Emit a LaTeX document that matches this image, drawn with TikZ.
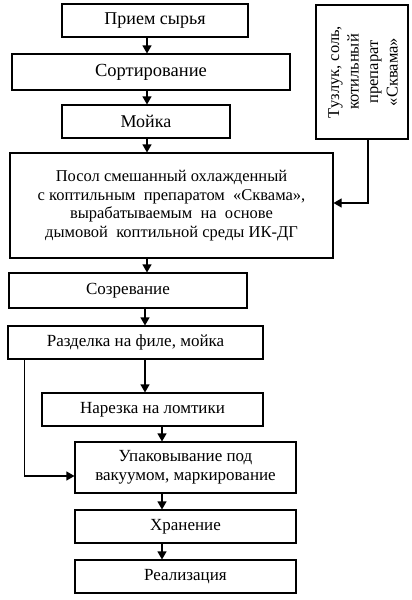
\documentclass[tikz,border=0pt]{standalone}
\usepackage{fontspec}
\setmainfont{Liberation Serif}
\usetikzlibrary{arrows.meta}

\begin{document}
\begin{tikzpicture}[x=1pt,y=1pt,yscale=-1,xscale=1,
  box/.style={draw,line width=1.1pt,inner sep=0pt,align=center,font=\fontsize{17}{19}\selectfont},
  arr/.style={line width=1.1pt,-{Triangle[length=8pt,width=9pt]}}]
  \useasboundingbox (0,0) rectangle (412,600);

  %Shape: Rectangle [id:priem]
  \node [box,minimum width=186,minimum height=33,font=\fontsize{18}{20}\selectfont] (priem) at (155,20.5) {Прием сырья};
  %Shape: Rectangle [id:sort]
  \node [box,minimum width=278,minimum height=36,font=\fontsize{18.5}{20}\selectfont] (sort) at (151,72) {Сортирование};
  %Shape: Rectangle [id:moika]
  \node [box,minimum width=168,minimum height=33,font=\fontsize{18}{20}\selectfont] (moika) at (146,121.5) {Мойка};
  %Shape: Rectangle [id:posol]
  \node [box,minimum width=323,minimum height=105,font=\fontsize{16.5}{18.5}\selectfont] (posol) at (171.5,205.5)
    {Посол смешанный охлажденный\\ с коптильным \ препаратом \ «Сквама»,\\ вырабатываемым \ на \ основе\\ дымовой \ коптильной среды ИК-ДГ};
  %Shape: Rectangle [id:tuzluk]
  \node [box,minimum width=92,minimum height=134] (tuzluk) at (362,72) {};
  % Text Node
  \node [rotate=90,align=center,inner sep=0pt,font=\fontsize{16.5}{19.5}\selectfont] (tuzlukt) at ([xshift=1]tuzluk.center)
    {Тузлук, соль,\\ котильный\\ препарат\\ «Сквама»};
  %Shape: Rectangle [id:sozr]
  \node [box,minimum width=238,minimum height=35] (sozr) at (128,290.5) {Созревание};
  %Shape: Rectangle [id:razd]
  \node [box,minimum width=255,minimum height=33] (razd) at (135.5,342.5) {Разделка на филе, мойка};
  %Shape: Rectangle [id:narez]
  \node [box,minimum width=221,minimum height=33] (narez) at (152.5,409.5) {Нарезка на ломтики};
  %Shape: Rectangle [id:upak]
  \node [box,minimum width=221,minimum height=51] (upak) at (185.5,467.5) {Упаковывание под\\ вакуумом, маркирование};
  %Shape: Rectangle [id:hran]
  \node [box,minimum width=221,minimum height=33] (hran) at (185.5,526.5) {Хранение};
  %Shape: Rectangle [id:real]
  \node [box,minimum width=221,minimum height=33] (real) at (185.5,576.5) {Реализация};

  %Straight Lines
  \draw [arr] ([xshift=-8]priem.south) -- ([xshift=-8]priem.south |- sort.north);
  \draw [arr] ([xshift=-4]sort.south) -- ([xshift=-4]sort.south |- moika.north);
  \draw [arr] ([xshift=1]moika.south) -- ([xshift=1]moika.south |- posol.north);
  \draw [arr] ([xshift=-24.5]posol.south) -- ([xshift=-24.5]posol.south |- sozr.north);
  \draw [arr] ([xshift=17]sozr.south) -- ([xshift=17]sozr.south |- razd.north);
  \draw [arr] ([xshift=9.5]razd.south) -- ([xshift=9.5]razd.south |- narez.north);
  \draw [arr] ([xshift=9.5]narez.south) -- ([xshift=9.5]narez.south |- upak.north);
  \draw [arr] ([xshift=-23.5]upak.south) -- ([xshift=-23.5]upak.south |- hran.north);
  \draw [arr] ([xshift=-23.5]hran.south) -- ([xshift=-23.5]hran.south |- real.north);
  %Side Lines
  \draw [arr] ([xshift=17]razd.south west) |- ([yshift=8.5]upak.west);
  \draw [arr] ([xshift=6]tuzluk.south) |- ([yshift=-2.5]posol.east);

\end{tikzpicture}
\end{document}
